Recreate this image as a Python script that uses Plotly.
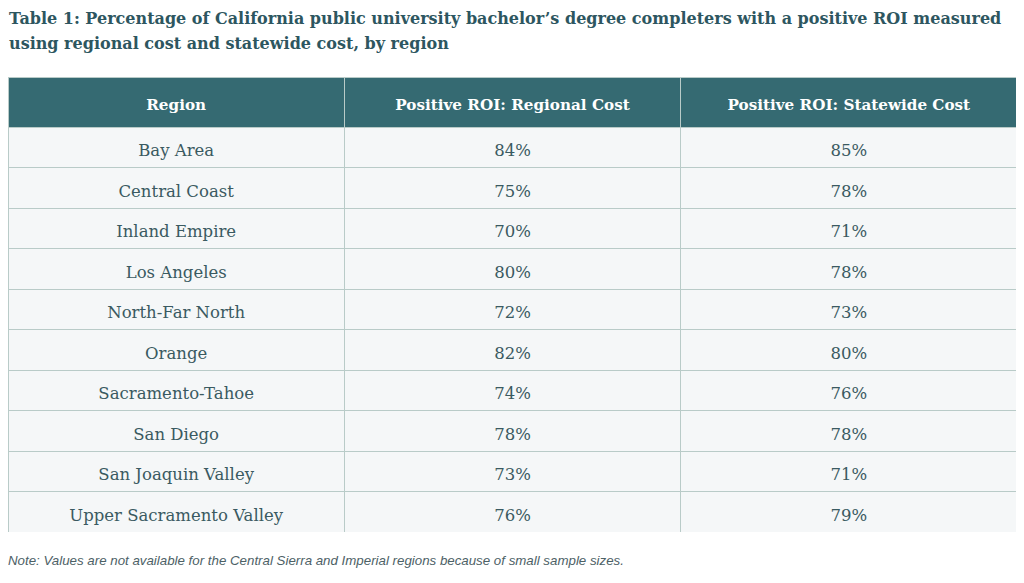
import plotly.graph_objects as go

# Data
regions = ["Bay Area", "Central Coast", "Inland Empire", "Los Angeles", "North-Far North",
           "Orange", "Sacramento-Tahoe", "San Diego", "San Joaquin Valley", "Upper Sacramento Valley"]
regional_cost = [84, 75, 70, 80, 72, 82, 74, 78, 73, 76]
statewide_cost = [85, 78, 71, 78, 73, 80, 76, 78, 71, 79]
headers = ["Region", "Positive ROI: Regional Cost", "Positive ROI: Statewide Cost"]
title_lines = ["Table 1: Percentage of California public university bachelor’s degree completers with a positive ROI measured",
               "using regional cost and statewide cost, by region"]
note = "Note: Values are not available for the Central Sierra and Imperial regions because of small sample sizes."

W, H = 1024, 583
border = "#b9cbc8"
clear = "rgba(0,0,0,0)"
serif = "DejaVu Serif"
row_h = 40.5

# the page body has an 8px margin, so positions below are shifted up/left by 8
# grid layer: fills and lines only
blank = [[""] * len(regions) for _ in headers]
fig = go.Figure(go.Table(
    domain=dict(x=[0, 1009 / W], y=[1 - 524 / H, 1 - 69 / H]),
    header=dict(values=[""] * len(headers), fill_color="#356a72", line_color=border, height=50),
    cells=dict(values=blank, fill_color="#f5f7f8", line_color=border, height=row_h),
))

# text layer: moved down a little so the text sits in the middle of each cell
fig.add_trace(go.Table(
    domain=dict(x=[0, 1009 / W], y=[1 - 533 / H, 1 - 80 / H]),
    header=dict(
        values=["<b>%s</b>" % h for h in headers],
        fill_color=clear, line_color=clear, align="center", height=48,
        font=dict(family=serif, size=15.2, color="white"),
    ),
    cells=dict(
        values=[regions,
                ["%d%%" % v for v in regional_cost],
                ["%d%%" % v for v in statewide_cost]],
        fill_color=clear, line_color=clear, align="center", height=row_h,
        font=dict(family=serif, size=16.5, color="#3a5a61"),
    ),
))

# title, one annotation per line to get the wider line spacing
for i, line in enumerate(title_lines):
    fig.add_annotation(
        x=0, y=1 - (11 + 24 * i) / H, xref="paper", yref="paper", xanchor="left", yanchor="middle",
        xshift=-1, align="left", showarrow=False,
        text="<b>%s</b>" % line,
        font=dict(family=serif, size=16, color="#2d5660"),
    )
fig.add_annotation(
    x=0, y=1 - 552 / H, xref="paper", yref="paper", xanchor="left", yanchor="middle",
    xshift=-2, showarrow=False,
    text="<i>%s</i>" % note,
    font=dict(family="Liberation Sans", size=13.3, color="#4d6166"),
)

fig.update_layout(
    width=W, height=H,
    margin=dict(l=0, r=0, t=0, b=0),
    paper_bgcolor="white",
)

fig.write_html("out.html")
